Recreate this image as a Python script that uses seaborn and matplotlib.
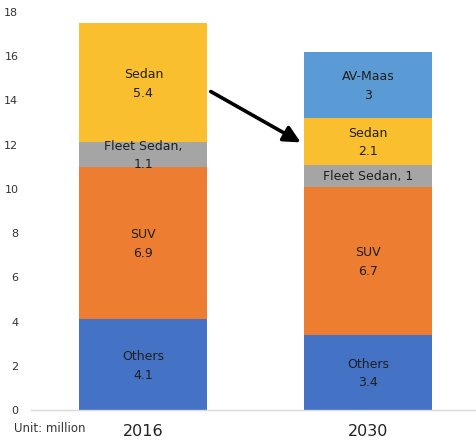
import matplotlib
matplotlib.use("Agg")
import matplotlib.pyplot as plt
import seaborn as sns
import pandas as pd
import numpy as np

years = ["2016", "2030"]
segments = ["Others", "SUV", "Fleet Sedan", "Sedan", "AV-Maas"]
others = [4.1, 3.4]
suv = [6.9, 6.7]
fleet_sedan = [1.1, 1.0]
sedan = [5.4, 2.1]
av_maas = [0.0, 3.0]
labels = {
    "Others": ["Others\n4.1", "Others\n3.4"],
    "SUV": ["SUV\n6.9", "SUV\n6.7"],
    "Fleet Sedan": ["Fleet Sedan,\n1.1", "Fleet Sedan, 1"],
    "Sedan": ["Sedan\n5.4", "Sedan\n2.1"],
    "AV-Maas": [None, "AV-Maas\n3"],
}
colors = {
    "Others": "#4472C4",
    "SUV": "#ED7D31",
    "Fleet Sedan": "#A5A5A5",
    "Sedan": "#F9BF2F",
    "AV-Maas": "#5B9BD5",
}
yticks = [0, 2, 4, 6, 8, 10, 12, 14, 16, 18]

values = {"Others": others, "SUV": suv, "Fleet Sedan": fleet_sedan,
          "Sedan": sedan, "AV-Maas": av_maas}

sns.set_style("white")
fig = plt.figure(figsize=(4.76, 4.4), dpi=100)
ax = fig.add_axes([0.065, 0.068, 0.935, 0.905])

bottom = np.zeros(len(years))
for seg in segments:
    vals = np.array(values[seg])
    df = pd.DataFrame({"year": years, "value": vals})
    sns.barplot(data=df, x="year", y="value", bottom=bottom, color=colors[seg],
                width=0.57, saturation=1, ax=ax, linewidth=0, order=years)
    for i, v in enumerate(vals):
        lab = labels[seg][i]
        if v > 0 and lab:
            ax.text(i, bottom[i] + v / 2 - 0.05, lab, ha="center", va="center",
                    fontsize=9, color="#1f1f1f", linespacing=1.55)
    bottom = bottom + vals

ax.set_xlim(-0.5, 1.48)
ax.set_ylim(0, 18)
ax.set_yticks(yticks)
ax.set_yticklabels([str(t) for t in yticks], fontsize=8, color="#333333")
ax.tick_params(axis="y", length=0, pad=9)
ax.tick_params(axis="x", length=0, labelsize=11.5, pad=10, colors="#222222")
ax.set_xlabel("")
ax.set_ylabel("")
for s in ["top", "right", "left"]:
    ax.spines[s].set_visible(False)
ax.spines["bottom"].set_color("#D9D9D9")
ax.spines["bottom"].set_linewidth(1)

fig.text(0.03, 0.012, "Unit: million", fontsize=8.5, color="#333333", ha="left", va="bottom")

# arrow between bars
ax.annotate("", xy=(0.70, 12.1), xytext=(0.30, 14.4),
            arrowprops=dict(arrowstyle="-|>,head_length=1.0,head_width=0.5",
                            color="black", lw=2.6, shrinkA=0, shrinkB=0))

fig.savefig("out.png", dpi=100)
